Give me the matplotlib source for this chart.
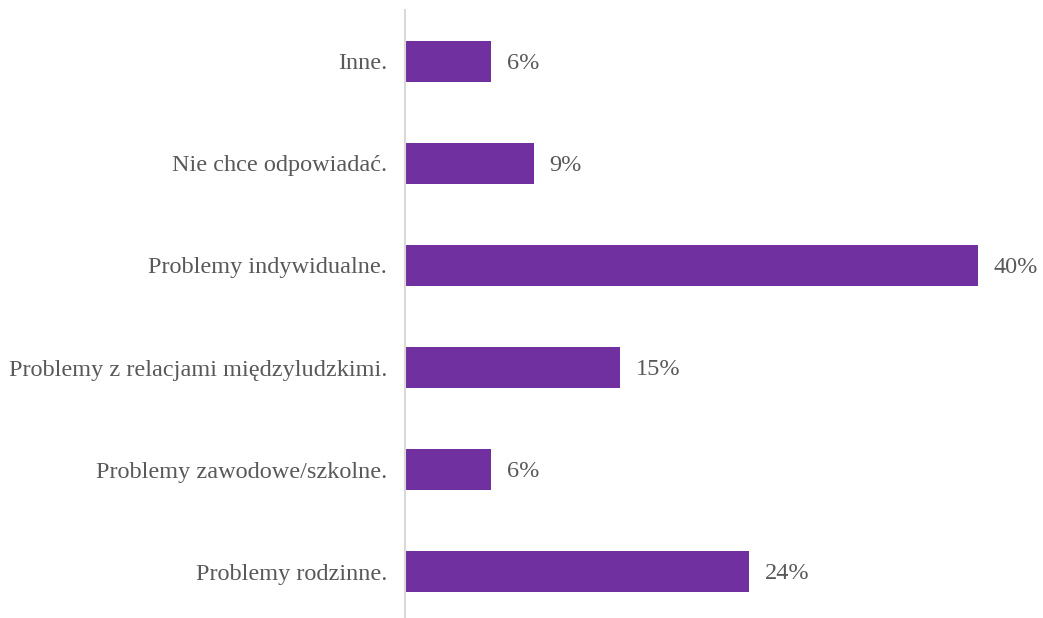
import matplotlib.pyplot as plt

# kategorie i wartosci (%)
kategorie = ["Inne.", "Nie chce odpowiadać.", "Problemy indywidualne.",
             "Problemy z relacjami międzyludzkimi.", "Problemy zawodowe/szkolne.",
             "Problemy rodzinne."]
wartosci = [6, 9, 40, 15, 6, 24]

kolor = "#7030A0"
szary = "#595959"

plt.rcParams["font.family"] = ["Liberation Serif", "DejaVu Serif"]

fig = plt.figure(figsize=(10.43, 6.18), dpi=100)
# os od x=405 px, od gory y=10 px do y=623 px
ax = fig.add_axes([405 / 1043, -5 / 618, 595 / 1043, 613 / 618])

pozycje = list(range(len(kategorie)))
ax.barh(pozycje, wartosci, height=0.4, color=kolor)
ax.set_ylim(len(kategorie) - 0.5, -0.5)
ax.set_xlim(0, 595 / 14.33)

for y, v in zip(pozycje, wartosci):
    ax.text(v + 1.1, y + 0.02, f"{v}%", va="center", ha="left", fontsize=17.5,
            color=szary, clip_on=False)

ax.set_yticks(pozycje)
ax.set_yticklabels(kategorie, fontsize=17.5, color=szary)
ax.tick_params(axis="y", length=0, pad=13)
ax.set_xticks([])

for s in ["top", "right", "bottom"]:
    ax.spines[s].set_visible(False)
ax.spines["left"].set_color("#D9D9D9")
ax.spines["left"].set_linewidth(1.5)

fig.savefig("out.png", dpi=100)
